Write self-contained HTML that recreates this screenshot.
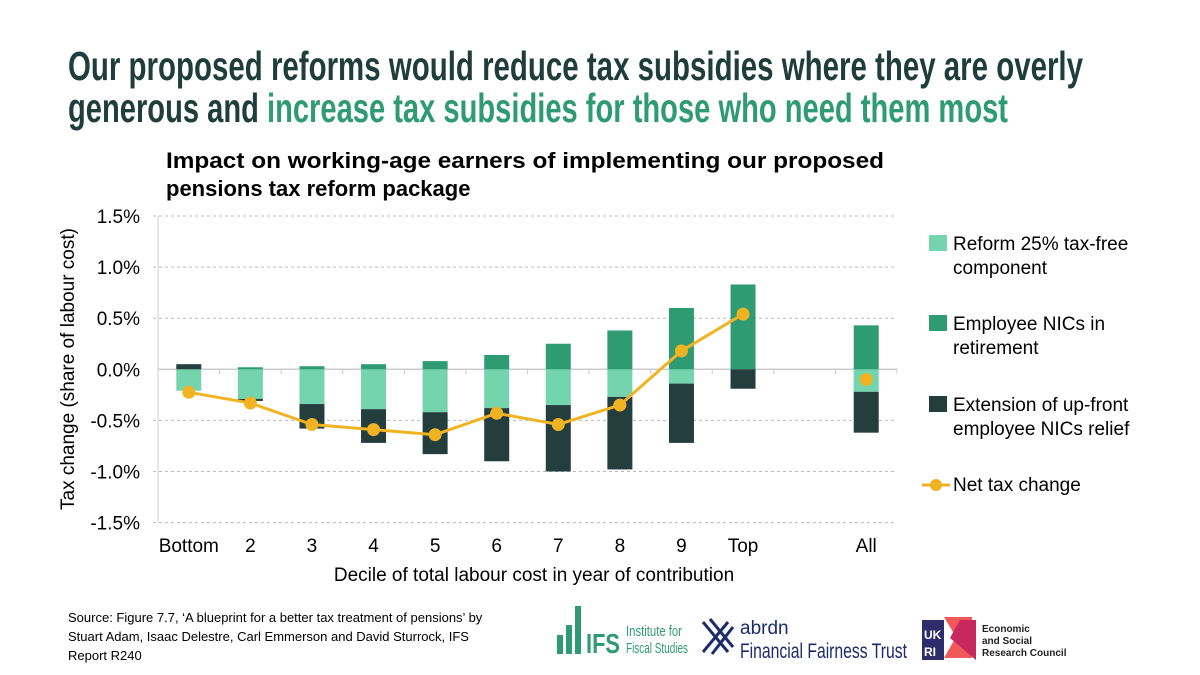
<!DOCTYPE html>
<html><head><meta charset="utf-8"><style>
html,body{margin:0;padding:0;background:#fff;}
svg{display:block;font-family:"Liberation Sans",Arial,sans-serif;}
</style></head><body>
<svg id="c" width="1200" height="675" viewBox="0 0 1200 675">
<g font-weight="bold">
<text x="68" y="80" font-size="41" fill="#1f3d3a" textLength="1015" lengthAdjust="spacingAndGlyphs" font-family="'Liberation Sans Narrow','Liberation Sans',sans-serif">Our proposed reforms would reduce tax subsidies where they are overly</text>
<text x="68" y="122" font-size="41" font-family="'Liberation Sans Narrow','Liberation Sans',sans-serif" textLength="940" lengthAdjust="spacingAndGlyphs"><tspan fill="#1f3d3a">generous and </tspan><tspan fill="#2f9b72">increase tax subsidies for those who need them most</tspan></text>
</g>
<text x="166" y="168" font-size="22" font-weight="bold" fill="#000" textLength="718" lengthAdjust="spacingAndGlyphs">Impact on working-age earners of implementing our proposed</text>
<text x="166" y="196" font-size="22" font-weight="bold" fill="#000">pensions tax reform package</text>
<g id="grid"></g>
<g id="bars"></g>
<g id="line"></g>
<text transform="translate(74,369) rotate(-90)" text-anchor="middle" font-size="19" fill="#000">Tax change (share of labour cost)</text>
<text x="534" y="581" text-anchor="middle" font-size="19" fill="#000">Decile of total labour cost in year of contribution</text>
<g font-size="19" fill="#000">
<rect x="929" y="235" width="18" height="16" fill="#73d4ae"/>
<text x="953" y="250">Reform 25% tax-free</text><text x="953" y="274">component</text>
<rect x="929" y="315" width="18" height="16" fill="#2f9b72"/>
<text x="953" y="330">Employee NICs in</text><text x="953" y="354">retirement</text>
<rect x="929" y="396" width="18" height="16" fill="#233e3d"/>
<text x="953" y="411">Extension of up-front</text><text x="953" y="435">employee NICs relief</text>
<line x1="922" y1="485" x2="950" y2="485" stroke="#f0b323" stroke-width="3"/>
<circle cx="936" cy="485" r="6" fill="#f0b323"/>
<text x="953" y="491">Net tax change</text>
</g>
<text font-size="13" fill="#000"><tspan x="68" y="622">Source: Figure 7.7, ‘A blueprint for a better tax treatment of pensions’ by</tspan><tspan x="68" y="641">Stuart Adam, Isaac Delestre, Carl Emmerson and David Sturrock, IFS</tspan><tspan x="68" y="660">Report R240</tspan></text>
<g fill="#2f9b72">
<rect x="557" y="635" width="6" height="19"/><rect x="566" y="625" width="6" height="29"/><rect x="575" y="606" width="6" height="48"/>
<text x="586" y="653" font-size="28" font-weight="bold" textLength="34" lengthAdjust="spacingAndGlyphs">IFS</text>
<text x="626" y="636" font-size="15" textLength="56" lengthAdjust="spacingAndGlyphs">Institute for</text><text x="626" y="653" font-size="15" textLength="62" lengthAdjust="spacingAndGlyphs">Fiscal Studies</text>
</g>
<g fill="#1d2a6b">
<g stroke="#1d2a6b" stroke-width="3"><line x1="703" y1="622" x2="728" y2="652"/><line x1="710" y1="619" x2="733" y2="647"/><line x1="728" y1="622" x2="703" y2="652"/><line x1="733" y1="627" x2="712" y2="654"/></g>
<text x="740" y="634" font-size="19">abrdn</text>
<text x="740" y="658" font-size="21" textLength="167" lengthAdjust="spacingAndGlyphs">Financial Fairness Trust</text>
</g>
<g>
<rect x="922" y="620" width="22" height="40" fill="#2e2d6b"/>
<text x="924" y="639" font-size="12" font-weight="bold" fill="#fff">UK</text><text x="924" y="656" font-size="12" font-weight="bold" fill="#fff">RI</text>
<polygon points="944,617 972,617 972,658 944,658 956,637" fill="#f0585a"/>
<polygon points="960,620 976,620 976,660 950,638" fill="#c8285d"/>
<text font-size="10" font-weight="bold" fill="#222"><tspan x="982" y="632">Economic</tspan><tspan x="982" y="644">and Social</tspan><tspan x="982" y="656">Research Council</tspan></text>
</g>
</svg>
<script>
const categories = ["Bottom","2","3","4","5","6","7","8","9","Top","All"];
const slots = [0,1,2,3,4,5,6,7,8,9,11];
const reform25 = [-0.21,-0.29,-0.34,-0.39,-0.42,-0.38,-0.35,-0.27,-0.14,0,-0.22];
const nicsRetirement = [0,0.02,0.03,0.05,0.08,0.14,0.25,0.38,0.60,0.83,0.43];
const extensionRelief = [0.05,-0.02,-0.24,-0.33,-0.41,-0.52,-0.65,-0.71,-0.58,-0.19,-0.40];
const netChange = [-0.225,-0.33,-0.54,-0.59,-0.64,-0.43,-0.54,-0.35,0.18,0.54,-0.10];
const yTicks = [1.5,1.0,0.5,0,-0.5,-1.0,-1.5];
const yTickLabels = ["1.5%","1.0%","0.5%","0.0%","-0.5%","-1.0%","-1.5%"];

const NS="http://www.w3.org/2000/svg";
const X0=158,X1=897,Y0=369.3,PX=102.2,SW=(X1-X0)/12,BW=25;
const y=v=>Y0-v*PX;
const xc=s=>X0+(s+0.5)*SW;
function mk(tag,attrs,parent){const e=document.createElementNS(NS,tag);for(const k in attrs)e.setAttribute(k,attrs[k]);parent.appendChild(e);return e;}
const grid=document.getElementById('grid'),bars=document.getElementById('bars'),line=document.getElementById('line');
yTicks.forEach((t,i)=>{
  if(t!==0){const g=mk('line',{x1:X0-5,x2:X1,y1:y(t),y2:y(t),stroke:'#bbb','stroke-dasharray':'3,3','stroke-width':1},grid);
  
  }
  const l=mk('text',{x:140,y:y(t)+7,'text-anchor':'end','font-size':19,fill:'#000'},grid);
  l.textContent=yTickLabels[i];
  
  
});
const ax=mk('line',{x1:X0,x2:X0,y1:y(1.5),y2:y(-1.5),stroke:'#ccc','stroke-width':1},grid);


const zx=mk('line',{x1:X0,x2:X1,y1:Y0,y2:Y0,stroke:'#ccc','stroke-width':1.5},bars);


for(let s=1;s<=12;s++){const t=mk('line',{x1:X0+s*SW,x2:X0+s*SW,y1:Y0,y2:Y0+5,stroke:'#ccc'},bars);

}
const series=[[reform25,'#73d4ae','reform-25-bar'],[nicsRetirement,'#2f9b72','nics-retirement-bar'],[extensionRelief,'#233e3d','extension-relief-bar']];
categories.forEach((c,i)=>{
  let pos=0,neg=0;const cx=xc(slots[i]);
  series.forEach(([arr,col,nm])=>{
    const v=arr[i];if(!v)return;
    let a,b;if(v>0){a=pos;b=pos+v;pos=b;}else{a=neg;b=neg+v;neg=b;}
    const r=mk('rect',{x:cx-BW/2,width:BW,y:Math.min(y(a),y(b)),height:Math.abs(y(a)-y(b)),fill:col},bars);
    
    
  });
  const t=mk('text',{x:cx,y:552,'text-anchor':'middle','font-size':19,fill:'#000'},grid);
  t.textContent=c;
  
  
});
const pts=[];for(let i=0;i<10;i++)pts.push(xc(slots[i])+','+y(netChange[i]));
const pl=mk('polyline',{points:pts.join(' '),fill:'none',stroke:'#f0b323','stroke-width':3},line);


netChange.forEach((v,i)=>{
  const p=mk('circle',{cx:xc(slots[i]),cy:y(v),r:6.5,fill:'#f0b323'},line);
  
  
});
</script>
</body></html>
